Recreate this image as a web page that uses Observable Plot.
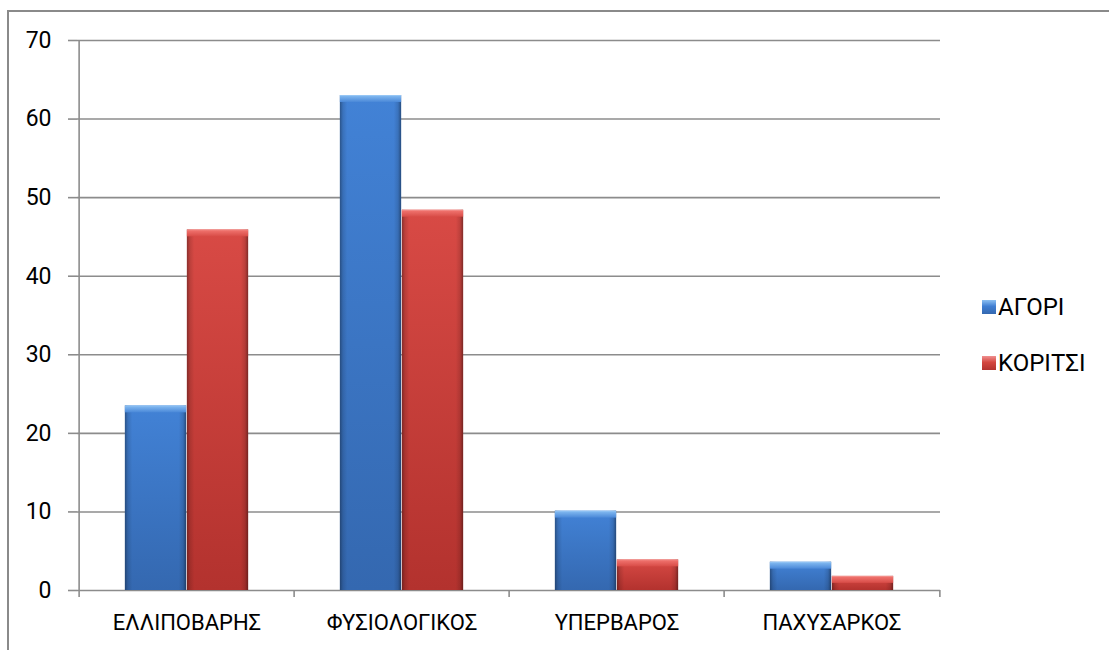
<!DOCTYPE html>
<html>
<head>
<meta charset="utf-8">
<script src="https://cdn.jsdelivr.net/npm/d3@7"></script>
<script src="https://cdn.jsdelivr.net/npm/@observablehq/plot@0.6"></script>
<style>
  html, body { margin: 0; padding: 0; background: #fff; }
  #chart { position: relative; width: 1109px; height: 650px; overflow: hidden; font-family: Roboto, "Noto Sans", sans-serif; }
  #border { position: absolute; left: 7px; top: 10px; width: 1200px; height: 800px; border-left: 2px solid #8a8a8a; border-top: 2px solid #8a8a8a; }
  #plot { position: absolute; left: 0; top: 0; }
  .legend { position: absolute; left: 982px; font-size: 24px; color: #000; }
  .legend .row { position: absolute; display: flex; align-items: center; white-space: nowrap; }
  .legend .sw { width: 14px; height: 14px; margin-right: 2px; }
</style>
</head>
<body>
<div id="chart">
  <div id="border"></div>
  <div id="plot"></div>
  <div class="legend" id="legend"></div>
</div>
<script>
// Weight categories and the two groups compared
const categories = ["ΕΛΛΙΠΟΒΑΡΗΣ", "ΦΥΣΙΟΛΟΓΙΚΟΣ", "ΥΠΕΡΒΑΡΟΣ", "ΠΑΧΥΣΑΡΚΟΣ"];
const series = ["ΑΓΟΡΙ", "ΚΟΡΙΤΣΙ"];
const boys = [23.5, 63.0, 10.1, 3.6];
const girls = [45.9, 48.4, 3.9, 1.8];
const yTicks = [0, 10, 20, 30, 40, 50, 60, 70];

const rows = series.flatMap((s, k) =>
  categories.map((c, i) => ({category: c, series: s, value: (k === 0 ? boys : girls)[i]}))
);
const boyRows = rows.filter(d => d.series === series[0]);
const girlRows = rows.filter(d => d.series === series[1]);

const W = 1109, H = 650;
const ml = 77, mr = 169, mt = 40, mb = 60;
const step = (W - ml - mr) / categories.length;
const barW = 62;
const outer = (step - 2 * barW) / 2;
const gridColor = "#8c8c8c";

// Gradient definitions for the bevelled bar look
const defs = () => {
  const d = d3.create("svg:defs");
  const lin = (id, x2, y2, stops) => {
    const g = d.append("linearGradient").attr("id", id)
      .attr("x1", 0).attr("y1", 0).attr("x2", x2).attr("y2", y2);
    for (const [o, c, a = 1] of stops) g.append("stop").attr("offset", o).attr("stop-color", c).attr("stop-opacity", a);
  };
  lin("blueBody", 0, 1, [[0, "#4282d6"], [1, "#3468b0"]]);
  lin("redBody", 0, 1, [[0, "#d84a45"], [1, "#b3322e"]]);
  lin("blueTop", 0, 1, [[0, "#a4d0f8"], [0.2, "#7cb4ee"], [1, "#4a88d8"]]);
  lin("redTop", 0, 1, [[0, "#f6a4a0"], [0.2, "#ee706b"], [1, "#d84c47"]]);
  lin("edges", 1, 0, [[0, "#000", 0.35], [0.05, "#000", 0.12], [0.12, "#000", 0], [0.88, "#000", 0], [0.95, "#000", 0.12], [1, "#000", 0.4]]);
  return d.node();
};

const barOpts = (k) => ({
  x: "category",
  insetLeft: outer + k * barW,
  insetRight: outer + (1 - k) * barW
});

const plot = Plot.plot({
  width: W,
  height: H,
  marginLeft: ml,
  marginRight: mr,
  marginTop: mt,
  marginBottom: mb,
  style: {fontFamily: "Roboto, 'Noto Sans', sans-serif", fontSize: "23px", color: "#000", background: "transparent"},
  x: {domain: categories, padding: 0, label: null},
  y: {domain: [0, 70], label: null},
  marks: [
    defs,
    // horizontal gridlines, including the baseline at zero
    Plot.ruleY(yTicks, {stroke: gridColor, strokeWidth: 1.6}),
    // vertical axis line
    Plot.ruleX([categories[0]], {dx: -step / 2, y1: 0, y2: 70, stroke: gridColor, strokeWidth: 1.6}),
    // category boundary ticks below the baseline
    Plot.ruleX(categories, {dx: -step / 2, y1: 0, y2: 0, insetBottom: -7, stroke: gridColor, strokeWidth: 1.6}),
    Plot.ruleX([categories[categories.length - 1]], {dx: step / 2, y1: 0, y2: 0, insetBottom: -7, stroke: gridColor, strokeWidth: 1.6}),
    // bars: body, edge shading, top bevel
    Plot.barY(boyRows, {...barOpts(0), y: "value", fill: "url(#blueBody)"}),
    Plot.barY(boyRows, {...barOpts(0), y: "value", fill: "url(#edges)"}),
    Plot.barY(boyRows, {...barOpts(0), y1: "value", y2: "value", insetBottom: -7, fill: "url(#blueTop)"}),
    Plot.barY(girlRows, {...barOpts(1), y: "value", fill: "url(#redBody)"}),
    Plot.barY(girlRows, {...barOpts(1), y: "value", fill: "url(#edges)"}),
    Plot.barY(girlRows, {...barOpts(1), y1: "value", y2: "value", insetBottom: -7, fill: "url(#redTop)"}),
    Plot.axisY({ticks: yTicks, tickSize: 9, tickPadding: 17, stroke: gridColor, strokeWidth: 1.6, fontSize: 23, label: null}),
    Plot.axisX({tickSize: 0, tickPadding: 24, fontSize: 22, label: null})
  ]
});
document.getElementById("plot").append(plot);

// Legend at the right of the chart
const legend = document.getElementById("legend");
const swatchFill = ["linear-gradient(#8cc0f2, #3f7ed2 45%, #3468b0)", "linear-gradient(#f09090, #d4463f 45%, #b3322e)"];
series.forEach((s, k) => {
  const row = document.createElement("div");
  row.className = "row";
  row.style.top = (k === 0 ? 293 : 349) + "px";
  const sw = document.createElement("span");
  sw.className = "sw";
  sw.style.background = swatchFill[k];
  const t = document.createElement("span");
  t.textContent = s;
  row.append(sw, t);
  legend.append(row);
});
</script>
</body>
</html>
